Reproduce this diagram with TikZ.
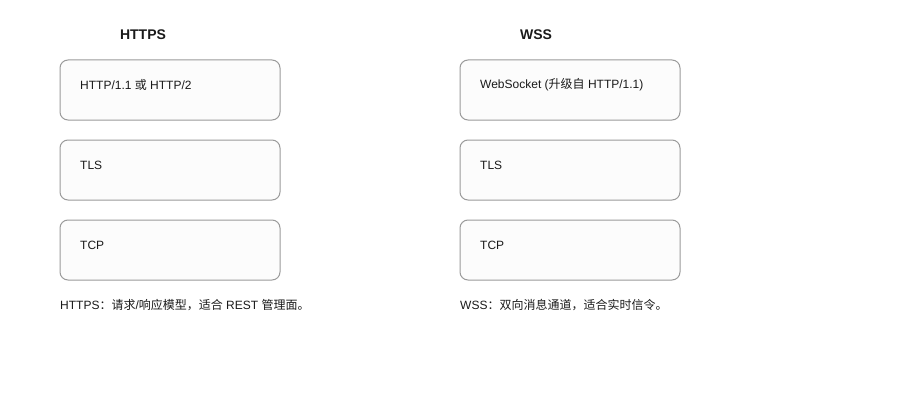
\documentclass[tikz,border=0pt]{standalone}
\usepackage{fontspec}
\setmainfont{Liberation Sans}
\newfontfamily\cjk{Noto Sans CJK SC}
\definecolor{boxline}{HTML}{9A9A9A}
\definecolor{boxfill}{HTML}{FCFCFC}
\definecolor{txt}{HTML}{1A1A1A}
\begin{document}
\begin{tikzpicture}[x=1pt,y=-1pt,
  layer/.style={draw=boxline, fill=boxfill, line width=1pt, rounded corners=8pt,
    minimum width=220pt, minimum height=60pt, inner sep=0pt},
  ltext/.style={anchor=west, font=\fontsize{12}{14}\selectfont, text=txt, inner sep=0pt},
  title/.style={font=\fontsize{14}{16}\selectfont\bfseries, text=txt, inner sep=0pt},
  note/.style={anchor=west, font=\fontsize{12}{14}\selectfont, text=txt, inner sep=0pt}]
\useasboundingbox (0,0) rectangle (900,420);
% left column
\node[title] (t1) at (143,35) {HTTPS};
\node[layer] (a1) at (170,90) {};
\node[layer] (a2) at (170,170) {};
\node[layer] (a3) at (170,250) {};
\node[ltext] (a1t) at (80,85) {HTTP/1.1 {\cjk 或} HTTP/2};
\node[ltext] (a2t) at (80,165) {TLS};
\node[ltext] (a3t) at (80,245) {TCP};
\node[note] (n1) at (60,305) {HTTPS{\cjk ：请求}/{\cjk 响应模型，适合} REST {\cjk 管理面。}};
% right column
\node[title] (t2) at (536,35) {WSS};
\node[layer] (b1) at (570,90) {};
\node[layer] (b2) at (570,170) {};
\node[layer] (b3) at (570,250) {};
\node[ltext] (b1t) at (480,85) {WebSocket ({\cjk 升级自} HTTP/1.1)};
\node[ltext] (b2t) at (480,165) {TLS};
\node[ltext] (b3t) at (480,245) {TCP};
\node[note] (n2) at (460,305) {WSS{\cjk ：双向消息通道，适合实时信令。}};
\end{tikzpicture}
\end{document}
